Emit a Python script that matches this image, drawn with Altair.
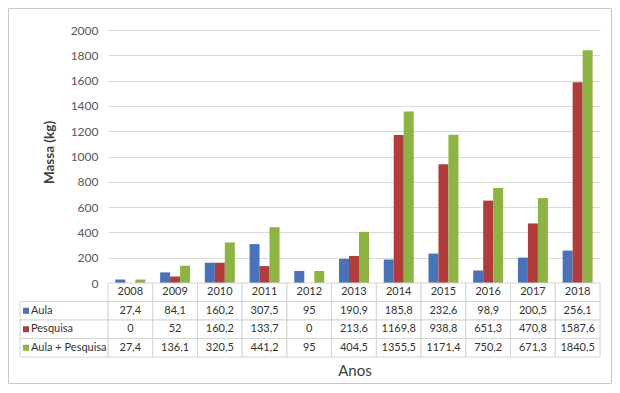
import altair as alt
import pandas as pd

years = ["2008", "2009", "2010", "2011", "2012", "2013", "2014", "2015", "2016", "2017", "2018"]
series = ["Aula", "Pesquisa", "Aula + Pesquisa"]
aula = [27.4, 84.1, 160.2, 307.5, 95, 190.9, 185.8, 232.6, 98.9, 200.5, 256.1]
pesquisa = [0, 52, 160.2, 133.7, 0, 213.6, 1169.8, 938.8, 651.3, 470.8, 1587.6]
total = [27.4, 136.1, 320.5, 441.2, 95, 404.5, 1355.5, 1171.4, 750.2, 671.3, 1840.5]
y_ticks = [0, 200, 400, 600, 800, 1000, 1200, 1400, 1600, 1800, 2000]
colors = ["#4A72B8", "#B03C3C", "#8DB443"]

FONT = "Lato"
W, H = 492, 253
T_TOP, T_BOT = 253, 327
rows = ["Ano"] + series


def fmt(v):
    return f"{v:g}".replace(".", ",")


values_by_series = {"Aula": aula, "Pesquisa": pesquisa, "Aula + Pesquisa": total}

bars_df = pd.DataFrame(
    [{"year": y, "serie": s, "value": values_by_series[s][i]}
     for s in series for i, y in enumerate(years)]
)

cells = [{"year": y, "row": "Ano", "text": y} for y in years]
for s in series:
    for i, y in enumerate(years):
        cells.append({"year": y, "row": s, "text": fmt(values_by_series[s][i])})
cells_df = pd.DataFrame(cells)
labels_df = pd.DataFrame({"row": series})

color_scale = alt.Scale(domain=series, range=colors)

xbar = alt.X("year:N", sort=years,
             scale=alt.Scale(domain=years, paddingInner=0.33, paddingOuter=0.165),
             axis=None)
ybar = alt.Y("value:Q", scale=alt.Scale(domain=[0, 2000]),
             axis=alt.Axis(values=y_ticks, format="d", grid=True, gridColor="#d9d9d9",
                           domain=False, ticks=False, labelPadding=10,
                           labelColor="#595959", labelFontSize=12, labelFont=FONT,
                           title="Massa (kg)", titleFont=FONT, titleFontWeight="bold",
                           titleFontSize=13.5, titleColor="#404040",
                           titleX=-59, titleY=122, titleBaseline="middle"))

bars = alt.Chart(bars_df).mark_bar().encode(
    x=xbar,
    xOffset=alt.XOffset("serie:N", sort=series,
                        scale=alt.Scale(domain=series, paddingInner=0, paddingOuter=0)),
    y=ybar,
    color=alt.Color("serie:N", scale=color_scale, legend=None),
)

xt = alt.X("year:N", sort=years,
           scale=alt.Scale(domain=years, paddingInner=0, paddingOuter=0), axis=None)
yt = alt.Y("row:N", sort=rows,
           scale=alt.Scale(domain=rows, range=[T_TOP, T_BOT], paddingInner=0, paddingOuter=0),
           axis=None)

one = alt.Data(values=[{}])

frame = alt.Chart(one).mark_rect(fillOpacity=0, stroke="#c8c8c8", strokeWidth=1).encode(
    x=alt.value(-99.5), x2=alt.value(503.5), y=alt.value(-21.5), y2=alt.value(353.5)
)

cell_rects = alt.Chart(cells_df).mark_rect(fill="white", stroke="#d4d4d4", strokeWidth=1).encode(
    x=xt, y=yt
)
cell_text = alt.Chart(cells_df).mark_text(font=FONT, fontSize=11, color="#333333").encode(
    x=xt, y=yt, text="text:N"
)
label_rects = alt.Chart(labels_df).mark_rect(fill="white", stroke="#d4d4d4", strokeWidth=1).encode(
    x=alt.value(-88), x2=alt.value(0), y=yt
)
squares = alt.Chart(labels_df).mark_square(size=36, opacity=1).encode(
    x=alt.value(-82), y=yt, color=alt.Color("row:N", scale=color_scale, legend=None)
)
label_text = alt.Chart(labels_df).mark_text(font=FONT, fontSize=11, color="#333333",
                                            align="left").encode(
    x=alt.value(-77), y=yt, text="row:N"
)
anos = alt.Chart(one).mark_text(text="Anos", font=FONT, fontSize=15, color="#404040").encode(
    x=alt.value(247), y=alt.value(341)
)

table = alt.layer(frame, cell_rects, cell_text, label_rects, squares, label_text, anos)

chart = alt.layer(bars, table).resolve_scale(
    x="independent", y="independent"
).properties(
    width=W, height=H,
    autosize=alt.AutoSizeParams(type="none"),
    padding={"left": 100, "top": 22, "right": 12, "bottom": 101},
).configure_view(stroke="transparent")

chart.save("out.html", embed_options={"renderer": "svg", "actions": False})
